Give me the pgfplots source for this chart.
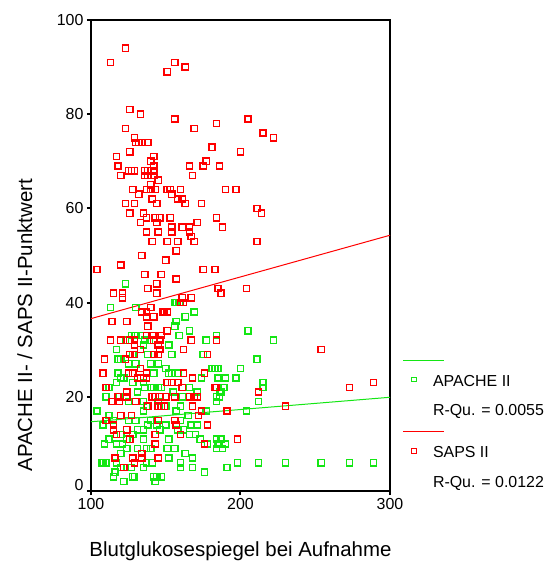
\documentclass[border=0pt]{standalone}
\usepackage{pgfplots}
\pgfplotsset{compat=1.18}
\usepackage{fontspec}
\setmainfont{Liberation Sans}
\definecolor{spssgreen}{RGB}{20,230,20}
\definecolor{spssred}{RGB}{255,0,0}
\begin{document}
\begin{tikzpicture}
\begin{axis}[
  scale only axis, width=299bp, height=471bp,
  xmin=100, xmax=300, ymin=0, ymax=100,
  xtick={100,200,300}, ytick={0,20,40,60,80,100},
  yticklabels={\raisebox{13bp}{0},20,40,60,80,100},
  tick pos=left, tick align=outside, major tick length=4bp,
  tick style={line width=2bp, black},
  axis line style={line width=1.2bp},
  /pgf/number format/assume math mode=true,
  ticklabel style={font=\fontsize{16}{19}\selectfont},
  xlabel={Blutglukosespiegel bei Aufnahme},
  ylabel={APACHE II- / SAPS II-Punktwert},
  label style={font=\fontsize{20.5}{24}\selectfont},
  xlabel style={at={(axis description cs:0.5,-0.128)}, anchor=center},
  ylabel style={at={(axis description cs:-0.221,0.352)}, anchor=center},
  legend style={at={(axis description cs:1.0435,0.2866)}, anchor=north west,
    draw=none, fill=none, inner sep=0pt, outer sep=0pt, row sep=0pt, column sep=0pt,
    font=\fontsize{16}{19}\selectfont, nodes={inner sep=0pt}},
  legend cell align=left,
]
\addlegendimage{legend image code/.code={\path[draw=none] (0bp,0bp) -- (30bp,0bp); \draw[overlay,spssgreen,line width=1bp] (0bp,4bp) -- (41bp,4bp);}}
\addlegendentry[text height=3bp, text depth=14bp]{}
\addlegendimage{legend image code/.code={\path[draw=none] (0bp,0bp) -- (30bp,0bp); \draw[spssgreen,line width=1.2bp,mark=square,mark size=2.3bp,mark options={draw=spssgreen,fill=none}] plot coordinates {(11bp,8bp)};}}
\addlegendentry[text height=13bp, text depth=16bp]{APACHE II}
\addlegendimage{legend image code/.code={\path[draw=none] (0bp,0bp) -- (30bp,0bp);}}
\addlegendentry[text height=13bp, text depth=12bp]{R-Qu. = 0.0055}
\addlegendimage{legend image code/.code={\path[draw=none] (0bp,0bp) -- (30bp,0bp); \draw[overlay,spssred,line width=1bp] (0bp,4bp) -- (41bp,4bp);}}
\addlegendentry[text height=3bp, text depth=14bp]{}
\addlegendimage{legend image code/.code={\path[draw=none] (0bp,0bp) -- (30bp,0bp); \draw[spssred,line width=1.2bp,mark=square,mark size=2.3bp,mark options={draw=spssred,fill=none}] plot coordinates {(11bp,8bp)};}}
\addlegendentry[text height=13bp, text depth=17bp]{SAPS II}
\addlegendimage{legend image code/.code={\path[draw=none] (0bp,0bp) -- (30bp,0bp);}}
\addlegendentry[text height=13bp, text depth=4bp]{R-Qu. = 0.0122}

% APACHE II
\addplot[forget plot, only marks, mark=square, mark size=3.1bp, color=spssgreen, draw=spssgreen, mark options={draw=spssgreen, fill=none, line width=1.4bp}] coordinates {
(123,44)(113,39)(130,39)(156,40)(157,40)(159,40)(169,38)(163,37)(157,36)(156,35)
(159,33)(166,34)(127,33)(130,33)(133,33)(129,33)(120,32)(123,32)(136,32)(139,32)(152,31)
(177,32)(184,32)(135,31)(128,29)(138,29)(154,29)(175,29)(184,33)(205,34)(222,32)
(211,28)(185,26)(200,26)(181,26)(183,26)(185,24)(190,24)(197,24)(215,23)(215,22)
(189,22)(186,20)(184,19)(212,19)(204,17)(184,11)(186,10)(184,9)
(198,6)(212,6)(230,6)(254,6)(273,6)(289,6)(191,5)
(142,25)(152,25)(154,25)(158,25)(176,25)(183,26)(174,24)(136,22)(140,22)
(142,22)(145,22)(147,22)(166,22)(131,21)(155,21)(171,21)(186,21)(161,20)(184,20)
(187,21)(104,17)(135,17)(137,18)(157,17)(177,17)
(117,30)(120,28)(118,28)(125,27)(130,27)(140,27)(145,27)(150,26)(118,25)(120,24)(117,23)
(122,24)(128,23)(135,23)(112,22)(110,20)(119,20)(125,19)(135,19)(145,19)(150,18)
(160,18)(112,16)(115,15)(120,16)(125,15)(130,15)(140,15)(160,15)(165,16)(108,14)
(117,12)(120,12)(128,12)(131,13)(146,13)(158,13)(162,13)
(138,14)(144,14)(150,14)(167,14)(171,14)(135,13)(124,13)(109,10)(117,10)(121,10)
(112,11)(124,11)(135,11)(143,12)(152,11)(166,12)(170,12)(173,11)(178,10)(185,10)
(190,10)(187,11)(188,9)(151,9)(156,9)(131,9)(137,9)(140,9)(124,9)(120,8)(163,8)
(168,7)(152,7)(141,6)(107,6)(108,6)(110,6)(117,6)(120,5)(137,6)(135,5)(127,5)
(160,6)(160,5)(168,5)(176,4)(116,4)(115,3)(122,2)(128,3)(129,3)(142,3)(144,3)
(147,3)(143,2)
};
% SAPS II
\addplot[forget plot, only marks, mark=square, mark size=3.1bp, color=spssred, draw=spssred, mark options={draw=spssred, fill=none, line width=1.4bp}] coordinates {
(123,94)(113,91)(156,91)(151,89)(163,90)(126,81)(133,80)(156,79)(123,77)(169,77)
(184,78)(205,79)(215,76)(222,75)(129,75)(130,74)(132,74)(134,74)(138,74)(181,73)
(200,72)(126,72)(117,71)(142,71)(140,70)(177,70)(118,69)(166,69)(175,69)(186,69)
(142,69)(120,67)(125,68)(127,68)(129,68)(136,68)(138,68)(142,68)(136,67)(138,67)
(142,67)(145,66)(168,67)(140,65)(128,64)(132,63)(137,64)(140,64)(143,64)(151,64)
(153,64)(160,64)(154,63)(141,62)(158,62)(161,62)(123,61)(129,61)(144,61)(163,61)
(174,61)(126,59)(135,59)(133,57)(137,58)(143,58)(146,58)(144,57)(153,58)(171,57)
(184,58)(154,56)(161,56)(166,56)
(137,55)(145,55)(154,55)(166,55)(167,54)(141,53)(151,53)(158,53)(169,53)(157,51)
(134,50)(150,49)(104,47)(120,48)(175,47)(183,47)(136,46)(147,46)(157,45)(138,43)
(144,44)(144,42)(115,42)(121,42)(121,41)(185,43)(187,42)(190,64)(197,64)(211,60)
(214,59)(188,56)(211,53)(204,43)
(161,41)(167,41)(160,40)(162,40)(140,39)(134,38)(137,38)(148,38)(149,38)(151,38)
(114,36)(124,36)(137,37)(142,37)(138,35)(151,34)(137,33)(141,33)(142,33)(147,33)
(113,32)(120,32)(126,32)(129,32)(142,32)(146,32)(167,32)(129,31)(133,30)(145,31)
(146,30)(162,30)(126,29)(129,29)(142,29)(145,29)(178,29)(109,28)(123,28)
(108,25)(110,22)(125,25)(128,25)(133,26)(137,25)(162,25)(168,24)(131,24)(133,24)
(135,24)(137,24)(151,23)(154,23)(158,23)(124,21)(161,22)(183,22)(114,19)(118,20)
(119,19)(124,20)(130,19)(141,20)(143,20)(146,20)(150,20)(156,20)(166,20)(169,20)
(171,20)(110,15)(115,14)(120,16)(127,16)(138,18)(145,18)(147,18)(149,18)(168,18)
(172,16)(174,17)(145,15)(156,15)
(115,13)(117,12)(124,13)(126,11)(143,12)(143,10)(160,12)(178,14)(176,10)(134,8)
(134,7)(128,7)(129,6)(122,5)(116,7)(145,7)(157,14)
(254,30)(273,22)(289,23)(230,18)(198,11)(212,21)(191,17)(184,32)(176,25)(184,22)
};
% fit lines
\addplot[forget plot, spssgreen, line width=1bp] coordinates {(100,14.7) (300,19.9)};
\addplot[forget plot, spssred, line width=1bp] coordinates {(100,36.6) (300,54.3)};
\end{axis}
\path ([shift={(-91bp,-80bp)}]current axis.south west) rectangle ([shift={(159bp,20bp)}]current axis.north east);
\end{tikzpicture}
\end{document}
